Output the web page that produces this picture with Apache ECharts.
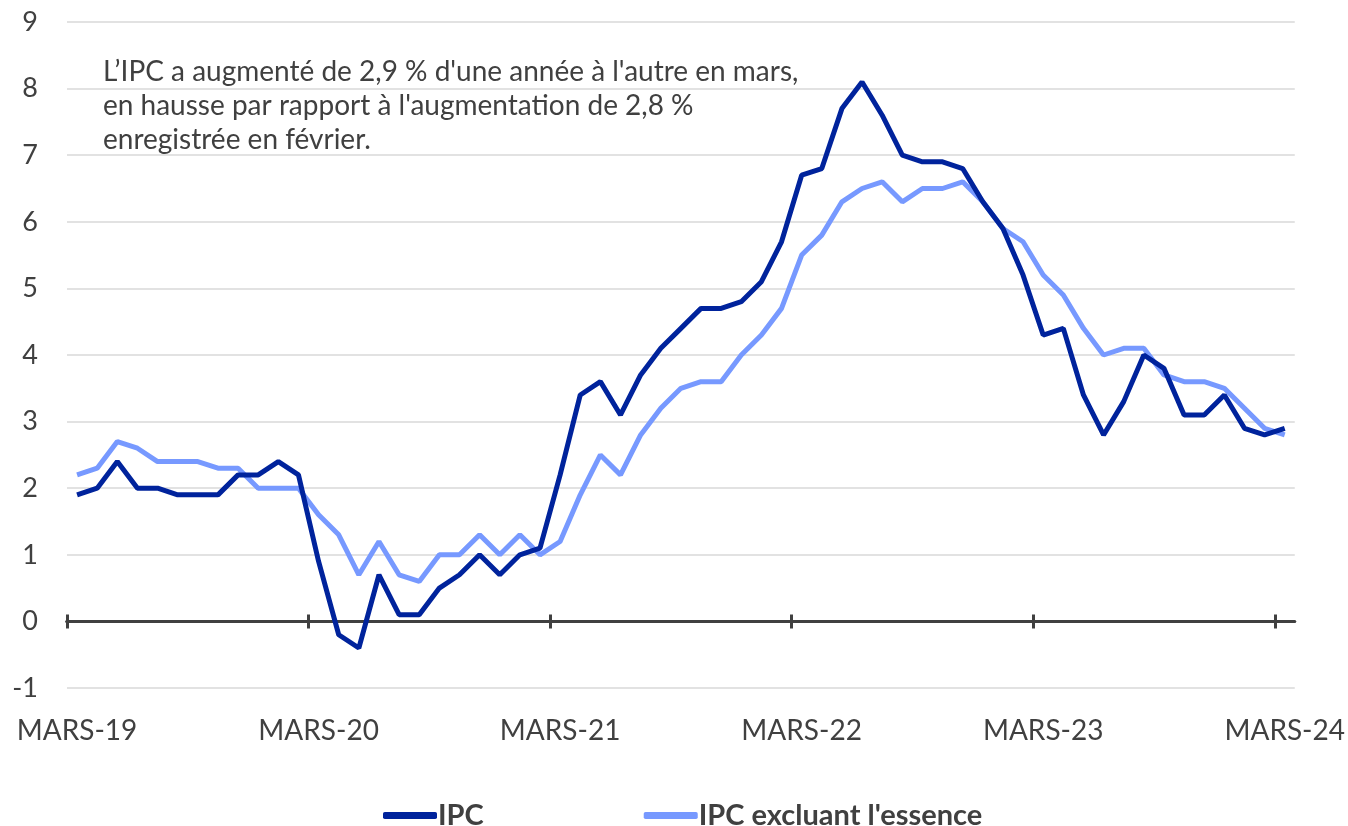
<!DOCTYPE html>
<html>
<head>
<meta charset="utf-8">
<script src="https://cdn.jsdelivr.net/npm/echarts@6/dist/echarts.min.js"></script>
<style>
  html, body { margin: 0; padding: 0; background: #fff; }
  #main { width: 1348px; height: 826px; }
</style>
</head>
<body>
<div id="main"></div>
<script>
// mois de mars 2019 à mars 2024
var moisAbr = ['JANV', 'FÉVR', 'MARS', 'AVR', 'MAI', 'JUIN', 'JUIL', 'AOÛT', 'SEPT', 'OCT', 'NOV', 'DÉC'];
var mois = [];
for (var a = 19; a <= 24; a++) {
  for (var m = 0; m < 12; m++) {
    if ((a === 19 && m < 2) || (a === 24 && m > 2)) continue;
    mois.push(moisAbr[m] + '-' + a);
  }
}
// graduations : une par an (sans le dernier mois)
var moisGrad = mois.slice(0, mois.length - 1);

// IPC, variation annuelle (%)
var ipc = [
  1.9, 2.0, 2.4, 2.0, 2.0, 1.9, 1.9, 1.9, 2.2, 2.2,
  2.4, 2.2, 0.9, -0.2, -0.4, 0.7, 0.1, 0.1, 0.5, 0.7, 1.0, 0.7,
  1.0, 1.1, 2.2, 3.4, 3.6, 3.1, 3.7, 4.1, 4.4, 4.7, 4.7, 4.8,
  5.1, 5.7, 6.7, 6.8, 7.7, 8.1, 7.6, 7.0, 6.9, 6.9, 6.8, 6.3,
  5.9, 5.2, 4.3, 4.4, 3.4, 2.8, 3.3, 4.0, 3.8, 3.1, 3.1, 3.4,
  2.9, 2.8, 2.9
];

// IPC excluant l'essence (%)
var ipcSansEssence = [
  2.2, 2.3, 2.7, 2.6, 2.4, 2.4, 2.4, 2.3, 2.3, 2.0,
  2.0, 2.0, 1.6, 1.3, 0.7, 1.2, 0.7, 0.6, 1.0, 1.0, 1.3, 1.0,
  1.3, 1.0, 1.2, 1.9, 2.5, 2.2, 2.8, 3.2, 3.5, 3.6, 3.6, 4.0,
  4.3, 4.7, 5.5, 5.8, 6.3, 6.5, 6.6, 6.3, 6.5, 6.5, 6.6, 6.3,
  5.9, 5.7, 5.2, 4.9, 4.4, 4.0, 4.1, 4.1, 3.7, 3.6, 3.6, 3.5,
  3.2, 2.9, 2.8
];

var note = [
  "L\u2019IPC a augmenté de 2,9 % d'une année à l'autre en mars,",
  "en hausse par rapport à l'augmentation de 2,8 %",
  "enregistrée en février."
];

var police = 'Lato, "Open Sans", sans-serif';
var gris = '#404040';

// largeur d'un mois dans la grille principale
var largeurPlot = 1348 - 67 - 53;
var bande = largeurPlot / mois.length;

var axeGrad = function (pos, yIdx) {
  return {
    type: 'category',
    gridIndex: 1,
    data: moisGrad,
    position: pos,
    boundaryGap: true,
    axisLine: { onZero: true, onZeroAxisIndex: yIdx, lineStyle: { color: gris, width: 3 } },
    axisTick: { show: true, interval: 11, length: 7, lineStyle: { color: gris, width: 3 } },
    axisLabel: { show: false },
    splitLine: { show: false }
  };
};

var myChart = echarts.init(document.getElementById('main'));
var option = {
  animation: false,
  textStyle: { fontFamily: police },
  grid: [
    { left: 67, right: 53, top: 22, bottom: 138, containLabel: false },
    { left: 67, right: 53 + bande, top: 22, bottom: 138, containLabel: false }
  ],
  legend: {
    left: 378,
    top: 796,
    icon: 'roundRect',
    itemWidth: 54,
    itemHeight: 7,
    itemGap: 160,
    data: ['IPC', "IPC excluant l'essence"],
    textStyle: { fontFamily: police, fontSize: 29, fontWeight: 'bold', color: gris, padding: [0, 0, 0, -4] }
  },
  xAxis: [
    {
      type: 'category',
      gridIndex: 0,
      data: mois,
      boundaryGap: true,
      axisLine: { onZero: true, lineStyle: { color: gris, width: 3 } },
      axisTick: { show: false },
      axisLabel: { interval: 11, margin: 29, fontSize: 28, color: gris, fontFamily: police },
      splitLine: { show: false }
    },
    axeGrad('bottom', 1),
    axeGrad('top', 2)
  ],
  yAxis: [
    {
      type: 'value',
      gridIndex: 0,
      min: -1,
      max: 9,
      interval: 1,
      axisLine: { show: false },
      axisTick: { show: false },
      axisLabel: { margin: 29, fontSize: 27, color: gris, fontFamily: police },
      splitLine: { lineStyle: { color: '#d9d9d9', width: 1.5 } }
    },
    { type: 'value', gridIndex: 1, min: -1, max: 9, interval: 1, show: false },
    { type: 'value', gridIndex: 1, min: -1, max: 9, interval: 1, show: false }
  ],
  graphic: [
    {
      type: 'text',
      left: 103,
      top: 55,
      style: {
        text: note.join('\n'),
        fontFamily: police,
        fontSize: 28,
        lineHeight: 34,
        fill: gris
      }
    }
  ],
  series: [
    {
      name: 'IPC',
      type: 'line',
      data: ipc,
      symbol: 'none',
      lineStyle: { color: '#00239c', width: 5 },
      itemStyle: { color: '#00239c' },
      z: 3
    },
    {
      name: "IPC excluant l'essence",
      type: 'line',
      data: ipcSansEssence,
      symbol: 'none',
      lineStyle: { color: '#7799ff', width: 5 },
      itemStyle: { color: '#7799ff' },
      z: 2
    }
  ]
};
myChart.setOption(option);
</script>
</body>
</html>
